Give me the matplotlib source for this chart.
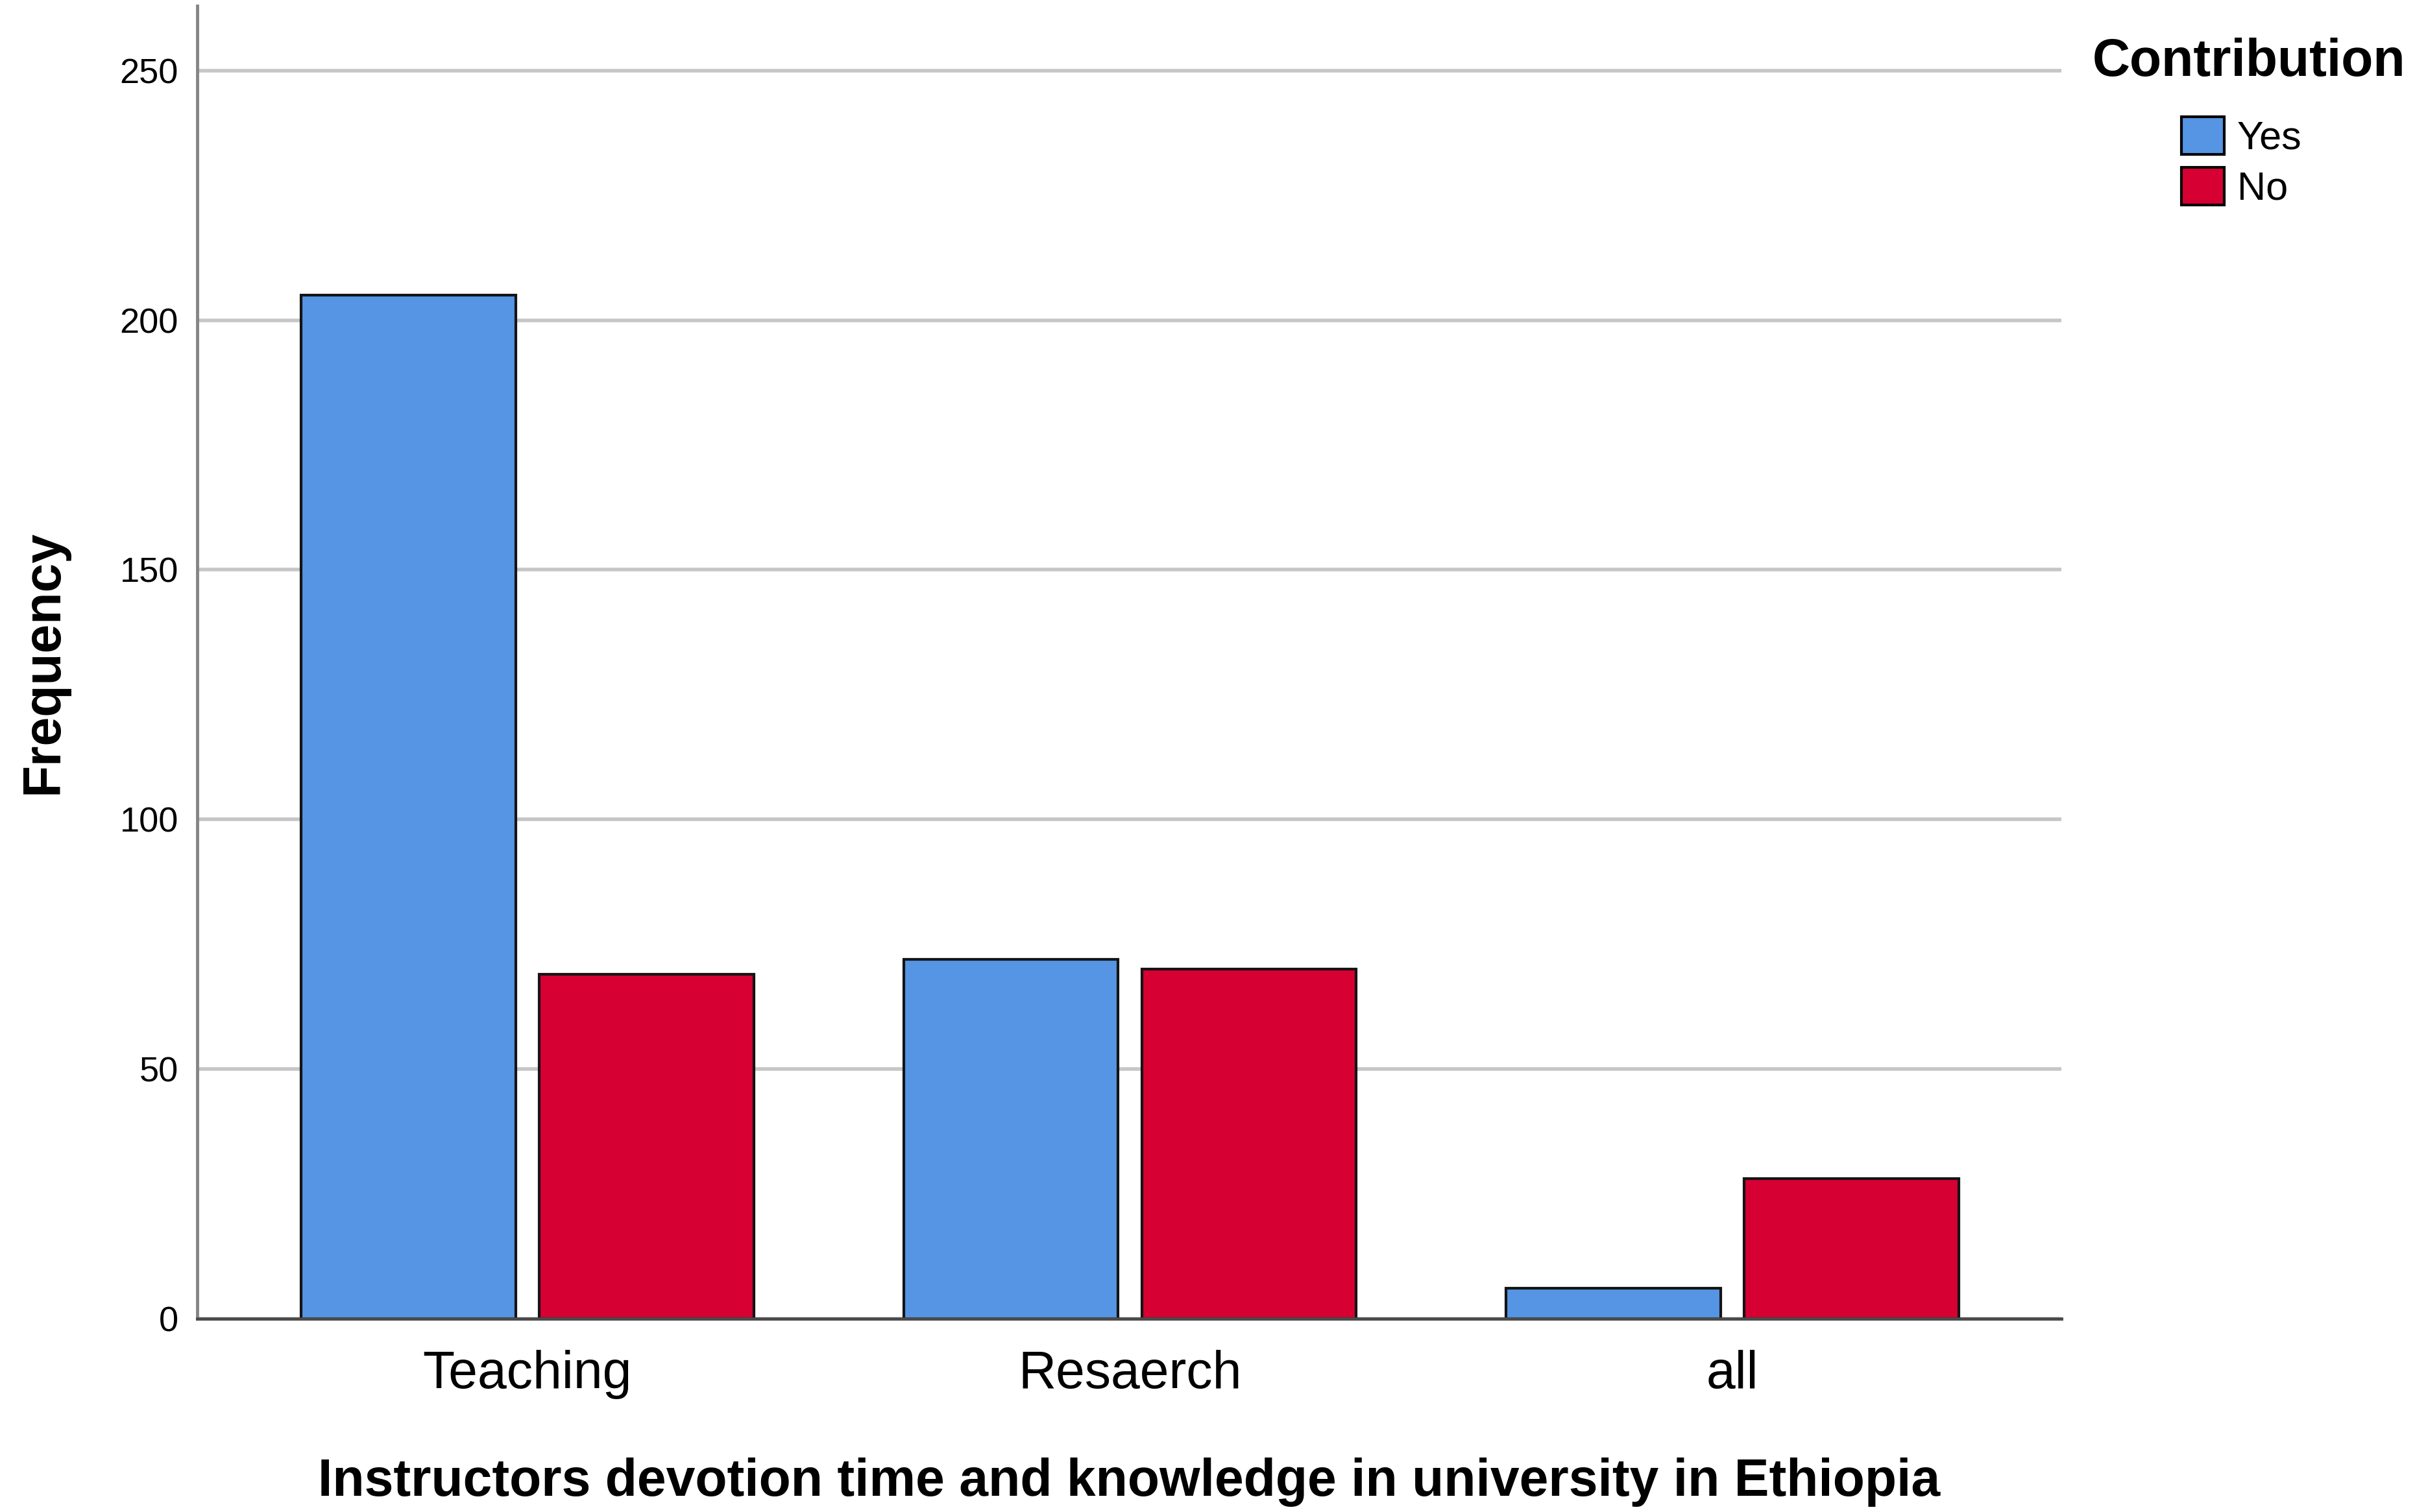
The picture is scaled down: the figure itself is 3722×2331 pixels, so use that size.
import matplotlib
matplotlib.use("Agg")
import matplotlib.pyplot as plt
import numpy as np
from matplotlib.patches import Patch

categories = ["Teaching", "Resaerch", "all"]
series_names = ["Yes", "No"]
yes_values = [205, 72, 6]
no_values = [69, 70, 28]
y_ticks = [0, 50, 100, 150, 200, 250]

plt.rcParams['font.family'] = ['Liberation Sans', 'DejaVu Sans']

W, H = 3723, 2331
fig = plt.figure(figsize=(W / 100, H / 100), dpi=100)
ax = fig.add_axes([304 / W, 1 - 2032.6 / H, (3177 - 304) / W, (2032.6 - 9) / H])

blue = '#5595E4'
red = '#D70032'
x = np.arange(len(categories))
width = 0.356
off = 0.1975
ax.bar(x - off, yes_values, width, color=blue, edgecolor='#141414', linewidth=3, zorder=3)
ax.bar(x + off, no_values, width, color=red, edgecolor='#141414', linewidth=3, zorder=3)

ax.set_xlim(-0.548, 2.546)
ax.set_ylim(0, 263)
ax.set_yticks(y_ticks)
ax.set_yticklabels([str(v) for v in y_ticks], fontsize=39)
ax.set_xticks(x)
ax.set_xticklabels(categories, fontsize=58)
ax.tick_params(axis='y', length=0, pad=21)
ax.tick_params(axis='x', length=0, pad=35)

ax.yaxis.grid(True, color='#c6c6c6', linewidth=4, zorder=0)
ax.set_axisbelow(True)
for s in ['top', 'right']:
    ax.spines[s].set_visible(False)
ax.spines['left'].set_color('#858585')
ax.spines['left'].set_linewidth(3.5)
ax.spines['bottom'].set_color('#4a4a4a')
ax.spines['bottom'].set_linewidth(3.5)
ax.spines['bottom'].set_zorder(4)

ax.set_ylabel("Frequency", fontsize=58, fontweight='bold')
ax.yaxis.set_label_coords(-0.069, 0.5)
ax.set_xlabel("Instructors devotion time and knowledge in university in Ethiopia",
              fontsize=58, fontweight='bold')
ax.xaxis.set_label_coords(0.5, -0.106)

fig.text(3225 / W, 1 - 117 / H, "Contribution", fontsize=58, fontweight='bold',
         ha='left', va='baseline')
handles = [Patch(facecolor=blue, edgecolor='black', linewidth=3),
           Patch(facecolor=red, edgecolor='black', linewidth=3)]
fig.legend(handles, series_names, loc='upper left', bbox_to_anchor=(3362 / W, 1 - 180 / H),
           frameon=False, fontsize=44, handlelength=1.08, handleheight=1.08,
           handletextpad=0.33, labelspacing=0.25, borderpad=0, borderaxespad=0)

fig.savefig("out.png", dpi=100, facecolor='white')
